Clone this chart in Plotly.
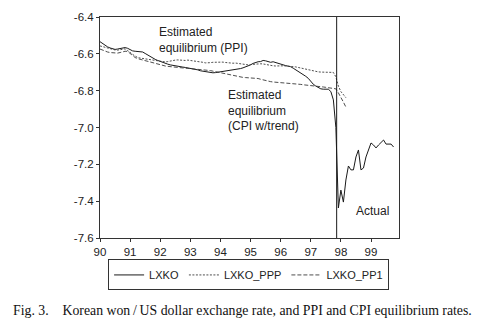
import plotly.graph_objects as go

# Monthly observations, 1990M01 onward (decimal years)
START_YEAR = 90

# Log won/dollar exchange rate, 1990M01-1999M10
lxko = [
    -6.534, -6.545, -6.555, -6.562, -6.568, -6.574, -6.576, -6.574, -6.570, -6.566,
    -6.566, -6.570, -6.578, -6.584, -6.586, -6.588, -6.588, -6.590, -6.598, -6.607,
    -6.615, -6.622, -6.630, -6.636, -6.642, -6.646, -6.651, -6.656, -6.660, -6.663,
    -6.665, -6.668, -6.670, -6.672, -6.674, -6.676, -6.678, -6.680, -6.683, -6.687,
    -6.692, -6.695, -6.698, -6.700, -6.702, -6.703, -6.702, -6.700, -6.699, -6.698,
    -6.696, -6.693, -6.691, -6.690, -6.688, -6.684, -6.680, -6.676, -6.672, -6.668,
    -6.660, -6.652, -6.646, -6.643, -6.642, -6.636, -6.638, -6.644, -6.646, -6.643,
    -6.648, -6.652, -6.655, -6.660, -6.664, -6.667, -6.670, -6.678, -6.686, -6.694,
    -6.702, -6.712, -6.722, -6.733, -6.752, -6.765, -6.775, -6.785, -6.790, -6.792,
    -6.790, -6.792, -6.805, -6.850, -7.000, -7.437, -7.340, -7.405, -7.285, -7.209,
    -7.230, -7.230, -7.160, -7.122, -7.230, -7.220, -7.160, -7.122, -7.084, -7.095,
    -7.111, -7.095, -7.079, -7.068, -7.090, -7.090, -7.090, -7.106,
]

# PPI-based equilibrium rate, 1990M01-1998M03
lxko_ppp = [
    -6.557, -6.561, -6.566, -6.570, -6.574, -6.577, -6.579, -6.580, -6.577, -6.574,
    -6.573, -6.582, -6.594, -6.603, -6.612, -6.620, -6.623, -6.625, -6.626, -6.628,
    -6.630, -6.633, -6.636, -6.639, -6.641, -6.643, -6.644, -6.642, -6.638, -6.635,
    -6.634, -6.633, -6.635, -6.637, -6.636, -6.634, -6.636, -6.638, -6.639, -6.639,
    -6.642, -6.646, -6.649, -6.650, -6.648, -6.646, -6.645, -6.644, -6.645, -6.645,
    -6.647, -6.649, -6.650, -6.651, -6.650, -6.652, -6.655, -6.657, -6.659, -6.660,
    -6.658, -6.656, -6.654, -6.653, -6.654, -6.655, -6.658, -6.661, -6.663, -6.665,
    -6.666, -6.665, -6.664, -6.665, -6.666, -6.667, -6.666, -6.668, -6.671, -6.674,
    -6.677, -6.681, -6.685, -6.689, -6.693, -6.695, -6.697, -6.698, -6.699, -6.700,
    -6.700, -6.699, -6.700, -6.701, -6.725, -6.775, -6.805, -6.822, -6.838,
]

# CPI-based equilibrium rate with trend, 1990M01-1998M03
lxko_pp1 = [
    -6.574, -6.580, -6.586, -6.590, -6.593, -6.595, -6.596, -6.596, -6.593, -6.589,
    -6.586, -6.587, -6.598, -6.610, -6.620, -6.626, -6.630, -6.633, -6.636, -6.639,
    -6.643, -6.647, -6.651, -6.655, -6.659, -6.663, -6.666, -6.668, -6.670, -6.672,
    -6.674, -6.676, -6.677, -6.677, -6.678, -6.679, -6.680, -6.681, -6.681, -6.682,
    -6.684, -6.686, -6.687, -6.688, -6.691, -6.694, -6.697, -6.700, -6.702, -6.704,
    -6.707, -6.711, -6.715, -6.719, -6.723, -6.726, -6.727, -6.728, -6.729, -6.730,
    -6.731, -6.731, -6.731, -6.734, -6.738, -6.742, -6.745, -6.748, -6.751, -6.753,
    -6.754, -6.755, -6.756, -6.757, -6.757, -6.758, -6.758, -6.760, -6.762, -6.764,
    -6.766, -6.768, -6.769, -6.770, -6.772, -6.774, -6.776, -6.778, -6.779, -6.780,
    -6.782, -6.783, -6.784, -6.785, -6.790, -6.812, -6.834, -6.862, -6.889,
]

x_ticks = list(range(90, 100))
y_ticks = [-6.4, -6.6, -6.8, -7.0, -7.2, -7.4, -7.6]
y_tick_labels = ["-6.4", "-6.6", "-6.8", "-7.0", "-7.2", "-7.4", "-7.6"]
crisis_x = 97.86


def months(n):
    return [START_YEAR + i / 12 for i in range(n)]


SANS = "Liberation Sans, Arial, sans-serif"
SERIF = "Liberation Serif, Times New Roman, serif"
INK = "#222222"

fig = go.Figure()
fig.add_trace(go.Scatter(
    x=months(len(lxko)), y=lxko, name="LXKO", mode="lines",
    line=dict(color="#1a1a1a", width=1),
))
fig.add_trace(go.Scatter(
    x=months(len(lxko_ppp)), y=lxko_ppp, name="LXKO_PPP", mode="lines",
    line=dict(color="#3a3a3a", width=0.9, dash="2px,1.5px"),
))
fig.add_trace(go.Scatter(
    x=months(len(lxko_pp1)), y=lxko_pp1, name="LXKO_PP1", mode="lines",
    line=dict(color="#3a3a3a", width=0.9, dash="4px,2px"),
))

fig.add_shape(type="line", x0=crisis_x, x1=crisis_x, y0=0, y1=1,
              xref="x", yref="paper", line=dict(color="#1a1a1a", width=1))

label_font = dict(family=SANS, size=12, color=INK)
fig.add_annotation(x=91.9, y=-6.526, xref="x", yref="y",
                   text="Estimated<br>equilibrium (PPI)", showarrow=False,
                   xanchor="left", yanchor="middle", align="left", font=label_font)
fig.add_annotation(x=94.17, y=-6.905, xref="x", yref="y",
                   text="Estimated<br>equilibrium<br>(CPI w/trend)", showarrow=False,
                   xanchor="left", yanchor="middle", align="left", font=label_font)
fig.add_annotation(x=98.43, y=-7.453, xref="x", yref="y",
                   text="Actual", showarrow=False,
                   xanchor="left", yanchor="middle", font=label_font)

# Figure caption below the legend
fig.add_annotation(x=-0.298, y=-0.33, xref="paper", yref="paper",
                   text="Fig. 3.\u00a0\u00a0\u00a0\u00a0Korean won\u2009/\u2009US dollar exchange rate, "
                        "and PPI and CPI equilibrium rates.",
                   showarrow=False, xanchor="left", yanchor="middle",
                   font=dict(family=SERIF, size=13.8, color="#111111"))

fig.update_layout(
    width=480, height=328,
    margin=dict(l=100, r=81, t=17, b=90),
    paper_bgcolor="white", plot_bgcolor="white",
    showlegend=True,
    legend=dict(
        orientation="h", x=0.497, xanchor="center", y=-0.097, yanchor="top",
        bordercolor="#333333", borderwidth=1, bgcolor="white",
        font=dict(family=SANS, size=11, color=INK),
        itemwidth=30, tracegroupgap=0,
    ),
    xaxis=dict(
        range=[90, 99.93], tickvals=x_ticks, ticktext=[str(v) for v in x_ticks],
        showgrid=False, zeroline=False, showline=True, mirror=True,
        linecolor="#333333", linewidth=1, ticks="outside", ticklen=3,
        tickcolor="#333333", tickfont=dict(family=SANS, size=11.5, color=INK),
    ),
    yaxis=dict(
        range=[-7.6, -6.4], tickvals=y_ticks, ticktext=y_tick_labels,
        showgrid=False, zeroline=False, showline=True, mirror=True,
        linecolor="#333333", linewidth=1, ticks="outside", ticklen=3,
        tickcolor="#333333", tickfont=dict(family=SANS, size=11.5, color=INK),
    ),
)

fig.write_html("out.html")
